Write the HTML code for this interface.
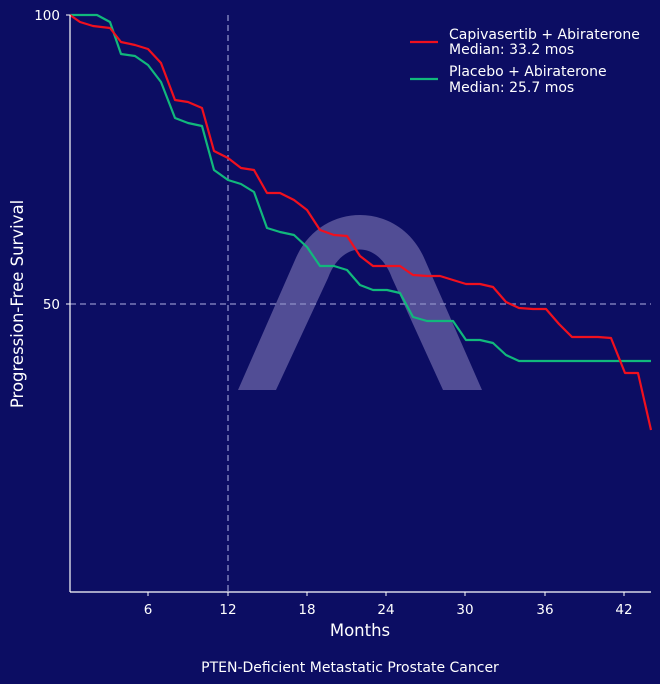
<!DOCTYPE html>
<html><head><style>html,body{margin:0;background:#0c0d63;overflow:hidden;width:660px;height:684px}svg{display:block}</style></head><body>
<svg width="660" height="684" viewBox="0 0 660 684" xmlns="http://www.w3.org/2000/svg" font-family="DejaVu Sans, Liberation Sans, sans-serif">
<rect width="660" height="684" fill="#0c0d63"/>
<path d="M238,390 L295,260 C320,200 400,200 425,260 L482,390 L443,390 L392,278 C378,240 342,240 328,278 L276,390 Z" fill="#8a84c0" fill-opacity="0.55"/>
<line x1="228" y1="15" x2="228" y2="592" stroke="#8e8fc8" stroke-width="1.3" stroke-dasharray="6,4"/>
<line x1="70" y1="304" x2="651" y2="304" stroke="#8e8fc8" stroke-width="1.3" stroke-dasharray="6,4"/>
<polyline fill="none" stroke="#11b87c" stroke-width="2.2" stroke-linejoin="round" points="70,15 97,15 110,22 121,54 135,56 148,65 161,82 175,118 188,123 202,126 214,170 228,180 241,184 254,192 267,228 280,232 294,235 307,247 320,266 334,266 347,270 360,285 373,290 387,290 400,293 413,317 427,321 440,321 453,321 466,340 480,340 493,343 506,355 519,361 651,361"/>
<polyline fill="none" stroke="#f0101e" stroke-width="2.2" stroke-linejoin="round" points="70,15 80,22 93,26 110,28 121,42 135,45 148,49 161,63 175,100 188,102 202,108 214,151 228,158 241,168 254,170 267,193 280,193 294,200 307,210 320,230 334,235 347,236 360,256 373,266 387,266 400,266 413,275 427,276 440,276 453,280 466,284 480,284 493,287 506,302 519,308 533,309 546,309 559,324 572,337 585,337 598,337 611,338 625,373 638,373 651,430"/>
<line x1="70" y1="15" x2="70" y2="592" stroke="#fff" stroke-width="1.2"/>
<line x1="70" y1="592" x2="651" y2="592" stroke="#fff" stroke-width="1.2"/>
<g fill="#fff" font-size="13.5">
<text x="60" y="20" text-anchor="end">100</text>
<text x="60" y="309" text-anchor="end">50</text>
<g text-anchor="middle">
<text x="148" y="614">6</text><text x="228" y="614">12</text><text x="307" y="614">18</text><text x="386" y="614">24</text><text x="465" y="614">30</text><text x="545" y="614">36</text><text x="624" y="614">42</text>
<text x="360" y="636" font-size="16.5">Months</text>
<text x="350" y="672" font-size="14">PTEN-Deficient Metastatic Prostate Cancer</text>
<text transform="translate(23,304) rotate(-90)" font-size="16.5">Progression-Free Survival</text>
</g>
<g font-size="14">
<line x1="410" y1="42" x2="438" y2="42" stroke="#f0101e" stroke-width="2.2"/>
<text x="449" y="39">Capivasertib + Abiraterone</text>
<text x="449" y="54">Median: 33.2 mos</text>
<line x1="410" y1="79" x2="438" y2="79" stroke="#11b87c" stroke-width="2.2"/>
<text x="449" y="76">Placebo + Abiraterone</text>
<text x="449" y="92">Median: 25.7 mos</text>
</g>
</g>
<g stroke="#fff"><line x1="66" y1="15" x2="70" y2="15"/><line x1="66" y1="304" x2="70" y2="304"/>
<line x1="148" y1="592" x2="148" y2="596"/><line x1="228" y1="592" x2="228" y2="596"/><line x1="307" y1="592" x2="307" y2="596"/><line x1="386" y1="592" x2="386" y2="596"/><line x1="465" y1="592" x2="465" y2="596"/><line x1="545" y1="592" x2="545" y2="596"/><line x1="624" y1="592" x2="624" y2="596"/></g>
</svg>
</body></html>
